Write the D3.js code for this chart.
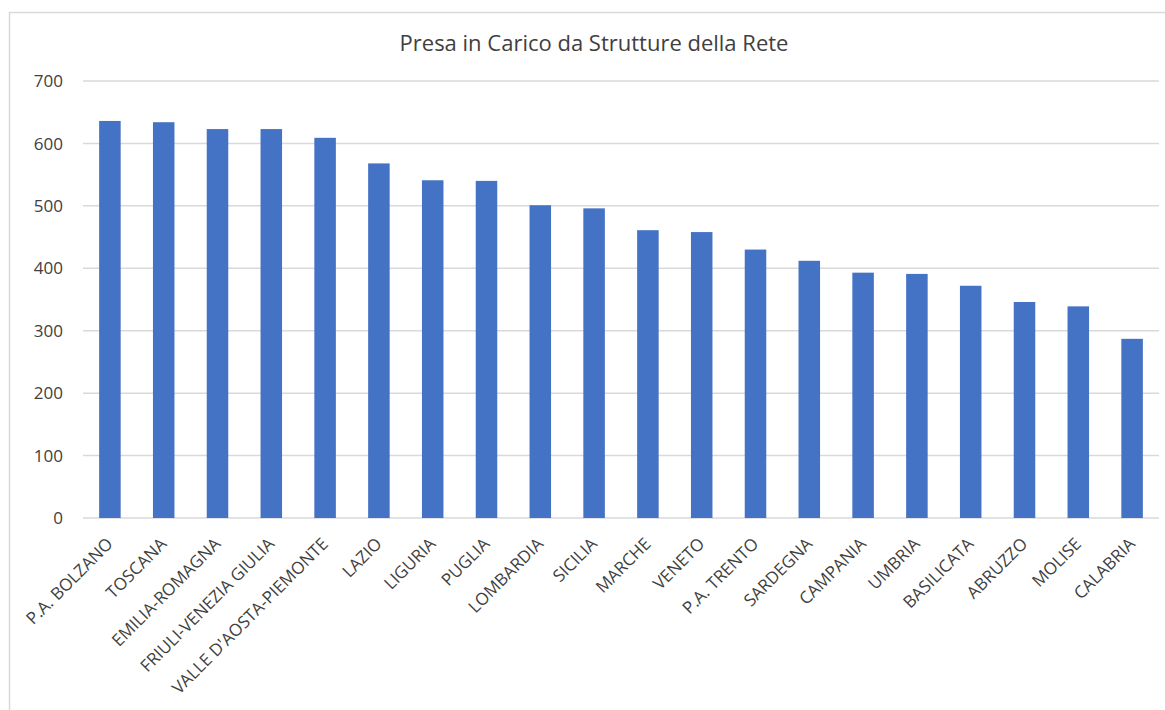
<!DOCTYPE html>
<html>
  <head>
    <meta charset="utf-8">
    <title>Presa in Carico da Strutture della Rete</title>
    <script src="https://d3js.org/d3.v7.min.js"></script>
    <style>
      body { margin: 0; background: #fff; }
      text { font-family: "Open Sans", "Noto Sans", sans-serif; fill: #404040; }
    </style>
  </head>
  <body>
    <div id="chart"></div>
    <script>
      const regions = ["P.A. BOLZANO", "TOSCANA", "EMILIA-ROMAGNA", "FRIULI-VENEZIA GIULIA",
        "VALLE D'AOSTA-PIEMONTE", "LAZIO", "LIGURIA", "PUGLIA", "LOMBARDIA", "SICILIA",
        "MARCHE", "VENETO", "P.A. TRENTO", "SARDEGNA", "CAMPANIA", "UMBRIA",
        "BASILICATA", "ABRUZZO", "MOLISE", "CALABRIA"];
      const values = [636, 634, 623, 623, 609, 568, 541, 540, 501, 496,
        461, 458, 430, 412, 393, 391, 372, 346, 339, 287];
      const yTicks = [0, 100, 200, 300, 400, 500, 600, 700];
      const title = "Presa in Carico da Strutture della Rete";

      const width = 1165, height = 710;
      const margin = { left: 83, right: 6, top: 81, bottom: 192 };

      const svg = d3.select("#chart")
        .append("svg")
        .attr("width", width)
        .attr("height", height);

      // chart frame (runs off the right and bottom of the picture)
      svg.append("rect")
        .attr("x", 9.5)
        .attr("y", 12.5)
        .attr("width", 1300)
        .attr("height", 900)
        .attr("fill", "none")
        .attr("stroke", "#d9d9d9")
        .attr("stroke-width", 1.5);

      const x = d3.scaleBand()
        .domain(regions)
        .range([margin.left, width - margin.right])
        .paddingInner(0.6)
        .paddingOuter(0.3);

      const y = d3.scaleLinear()
        .domain([0, 700])
        .range([height - margin.bottom, margin.top]);

      // gridlines
      svg.append("g")
        .selectAll("line")
        .data(yTicks)
        .join("line")
        .attr("x1", margin.left)
        .attr("x2", width - margin.right)
        .attr("y1", d => y(d))
        .attr("y2", d => y(d))
        .attr("stroke", "#d9d9d9")
        .attr("stroke-width", 1.5);

      // y labels
      svg.append("g")
        .selectAll("text")
        .data(yTicks)
        .join("text")
        .attr("x", 63)
        .attr("y", d => y(d))
        .attr("dy", "0.36em")
        .attr("text-anchor", "end")
        .attr("font-size", "17px")
        .text(d => d);

      // bars
      svg.append("g")
        .selectAll("rect")
        .data(values)
        .join("rect")
        .attr("x", (_, i) => x(regions[i]))
        .attr("y", d => y(d))
        .attr("width", x.bandwidth())
        .attr("height", d => y(0) - y(d))
        .attr("fill", "#4472c4");

      // category labels, rotated
      svg.append("g")
        .selectAll("text")
        .data(regions)
        .join("text")
        .attr("transform", d => `translate(${x(d) + x.bandwidth() / 2 + 4},${y(0) + 27}) rotate(-45)`)
        .attr("text-anchor", "end")
        .attr("font-size", "17px")
        .text(d => d);

      svg.append("text")
        .attr("x", 594)
        .attr("y", 51)
        .attr("text-anchor", "middle")
        .attr("font-size", "22px")
        .text(title);
    </script>
  </body>
</html>
